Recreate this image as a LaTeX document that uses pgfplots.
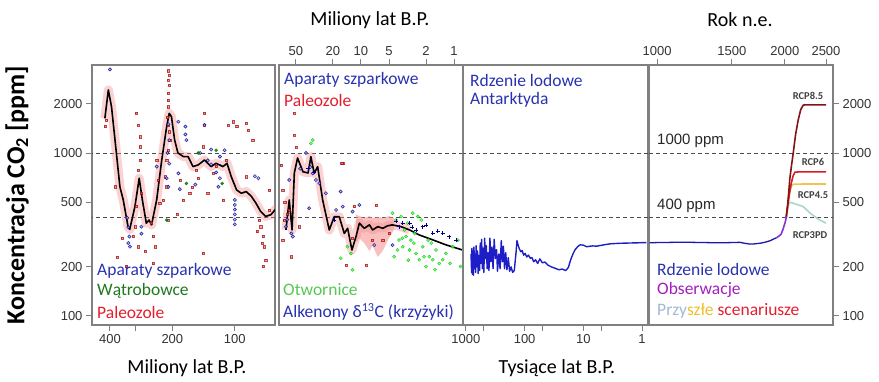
\documentclass[border=0pt]{standalone}
\usepackage{fontspec}
\setmainfont{Carlito}
\newfontfamily\arialfont{Liberation Sans}
\usepackage{pgfplots}
\pgfplotsset{compat=1.18}
\definecolor{txtblue}{RGB}{40,50,175}
\definecolor{txtred}{RGB}{228,30,45}
\definecolor{txtgreen}{RGB}{30,120,30}
\definecolor{txtlgreen}{RGB}{85,200,80}
\definecolor{txtpurple}{RGB}{165,30,190}
\definecolor{framegray}{RGB}{128,128,128}
\definecolor{lineblue}{RGB}{30,30,200}
\definecolor{obspurple}{RGB}{130,50,220}
\definecolor{rcpeight}{RGB}{130,20,25}
\definecolor{rcpsix}{RGB}{210,30,30}
\definecolor{rcpfour}{RGB}{240,195,80}
\definecolor{rcpthree}{RGB}{170,212,208}
\definecolor{bandpink}{RGB}{245,140,140}
\definecolor{futblue}{RGB}{160,185,215}
\definecolor{futyellow}{RGB}{240,190,40}
\pgfplotsset{
 co2panel/.style={
  scale only axis, height=260pt,
  anchor=south west,
  axis line style={framegray, line width=1.6pt},
  tick style={framegray, line width=0.9pt},
  major tick length=6pt, tick align=outside,
  tick label style={font=\arialfont\fontsize{13}{13}\selectfont, text=black!80},
 },
 co2ref/.style={black!70, line width=0.8pt, dash pattern=on 4pt off 3pt},
 co2redx/.style={only marks, mark=square*, mark size=1.1pt, draw=red!60!black, fill=red!55, opacity=0.7, line width=0.4pt},
 co2bluec/.style={only marks, mark=*, mark size=1.6pt, draw=blue!55!black, fill=blue!30, opacity=0.8, line width=0.6pt},
 co2greenc/.style={only marks, mark=*, mark size=1.5pt, draw=green!45!black, fill=green!50!black, opacity=0.85},
 co2lgreen/.style={only marks, mark=*, mark size=1.6pt, draw=green!75!black, fill=green!65, opacity=0.8},
 co2band/.style={bandpink, line width=9pt, opacity=0.4, line join=round},
}
\begin{document}
\begin{tikzpicture}
\useasboundingbox (0,0) rectangle (879pt,381pt);

% ---------------- Panel 1 ----------------
\begin{axis}[co2panel, at={(92pt,56pt)}, width=183pt,
  ymode=log, ymin=88, ymax=3467,
  xmode=log, x dir=reverse, xmin=64, xmax=488,
  xminorticks=false, yminorticks=false,
  xtick={400,300,200,100}, xticklabels={400,,200,100}, xtick pos=left,
  ytick={100,200,500,1000,2000}, yticklabels={100,200,500,1000,2000}, ytick pos=left]
\addplot[co2ref] coordinates {(64,1000) (488,1000)};
\addplot[co2ref] coordinates {(64,400) (488,400)};
\addplot[co2band] coordinates {(423,1630)(407,2436)(393,1923)(378,1202)(358,621)(345,515)(327,353)(321,340)(303,469)(289,700)(279,515)(267,371)(259,388)(252,362)(238,515)(225,906)(213,1452)(207,1750)(202,1670)(195,1202)(188,1000)(177,950)(168,950)(159,825)(150,845)(140,906)(130,825)(123,865)(114,825)(109,865)(104,716)(98,593)(93,566)(88,580)(83,540)(79,491)(75,437)(71,408)(67,418)(63,458)};
\addplot[co2redx] coordinates {(423,1452)(415,1592)(378,621)(333,201)(298,1750)(292,1486)(287,1260)(287,1094)(287,906)(292,787)(282,566)(298,469)(303,353)(309,307)(292,266)(252,371)(247,307)(243,266)(247,210)(213,621)(217,716)(221,515)(209,388)(213,906)(209,1486)(209,2805)(209,2323)(209,1923)(206,1202)(209,1043)(209,3200)(207,2600)(211,1650)(208,3000)(210,2100)(208,1350)(184,683)(177,515)(165,566)(153,787)(140,1750)(140,1486)(142,1094)(142,242)(135,566)(123,825)(114,515)(110,906)(108,1486)(102,1556)(98,1452)(88,1520)(86,1384)(82,1202)(88,716)(76,388)(75,353)(73,307)(72,266)(71,220)(73,201)(68,447)(68,593)(238,906)(234,683)(230,491)(127,750)(150,700)(160,620)(190,420)(270,250)(350,300)(370,230)(78,330)(74,280)};
\addplot[co2bluec] coordinates {(400,3258)(330,400)(326,350)(322,307)(326,280)(320,266)(282,353)(282,320)(238,825)(209,1500)(207,1200)(211,1000)(207,860)(213,700)(209,620)(187,1556)(173,1452)(173,1300)(171,1200)(187,750)(184,600)(140,1486)(147,1000)(135,900)(130,850)(123,760)(118,950)(118,700)(120,620)(100,515)(100,480)(100,450)(100,420)(100,390)(100,365)(80,720)(77,700)(112,1040)(130,1050)(155,640)};
\addplot[co2greenc] coordinates {(171,650)(115,650)(213,388)(150,1000)(123,1040)};
\addplot[black, line width=1.6pt, line join=round] coordinates {(423,1630)(407,2436)(393,1923)(378,1202)(358,621)(345,515)(327,353)(321,340)(303,469)(289,700)(279,515)(267,371)(259,388)(252,362)(238,515)(225,906)(213,1452)(207,1750)(202,1670)(195,1202)(188,1000)(177,950)(168,950)(159,825)(150,845)(140,906)(130,825)(123,865)(114,825)(109,865)(104,716)(98,593)(93,566)(88,580)(83,540)(79,491)(75,437)(71,408)(67,418)(63,458)};
\end{axis}

% ---------------- Panel 2 ----------------
\begin{axis}[co2panel, at={(279pt,56pt)}, width=184pt,
  ymode=log, ymin=88, ymax=3467, ytick=\empty,
  xmode=log, x dir=reverse, xmin=0.8, xmax=76,
  xminorticks=false, yminorticks=false,
  xtick={50,20,10,5,2,1}, xticklabels={50,20,10,5,2,1},
  xtick pos=right, xticklabel pos=right]
\addplot[co2ref] coordinates {(0.8,1000) (76,1000)};
\addplot[co2ref] coordinates {(0.8,400) (76,400)};
\addplot[fill=bandpink, draw=none, opacity=0.55] coordinates {(11.3,420)(10.4,410)(9.2,400)(8.1,410)(7.5,400)(6.6,405)(5.8,400)(5.0,410)(4.4,400)(4.4,340)(5.0,300)(5.85,250)(6.6,230)(7.5,270)(8.1,250)(9.2,280)(10.4,300)(11.3,280)} -- cycle;
\addplot[co2band] coordinates {(64,337)(59,515)(55,337)(52,754)(48,931)(42,767)(37,754)(34.5,949)(31.8,750)(29.2,824)(25.8,515)(21.9,337)(19.4,406)(17.1,406)(15.1,321)(13.9,345)(12.5,254)(11.3,307)(10.4,371)(9.2,345)(8.1,362)(7.5,337)(6.6,353)(5.8,345)(5.2,357)(4.6,362)(3.7,353)(3.0,337)};
\addplot[co2redx] coordinates {(72,845)(69.5,593)(67,388)(59,447)(56,231)(50,1090)(15.7,865)(14.5,205)(8.8,205)(6.9,480)(11.8,469)(12.3,300)(7.5,292)(5.85,292)(5.0,321)(46,353)(69.5,292)(52.5,1758)(52.5,1289)(16.1,868)(66,500)(62,420)};
\addplot[co2lgreen] coordinates {(34.5,1146)(33,1202)(14,266)(12.8,242)(16.5,226)(12.3,192)(4.57,427)(4.2,388)(3.9,292)(3.56,266)(3.28,307)(3.0,254)(2.78,427)(2.56,242)(2.36,221)(2.17,266)(2.0,201)(1.84,231)(1.69,221)(1.56,254)(1.44,210)(1.32,221)(1.22,242)(1.03,266)(0.91,292)(0.85,201)(3.4,337)(2.9,292)(3.15,371)(3.7,407)(2.45,407)(2.65,321)(2.25,388)(4.05,254)(4.4,231)(2.1,231)(1.6,192)(1.9,292)(3.6,300)(2.7,280)(1.75,280)(1.1,210)(3.1,220)};
\addplot[co2bluec] coordinates {(59,683)(56,321)(64,353)(54,307)(36,458)(39,1000)(33,750)(30.5,683)(18.5,447)(16.5,580)(15.7,469)(12.3,437)(10.4,480)(7.2,272)(4.57,272)(28,652)(23.8,566)(62,390)(45,800)(35,820)};
\addplot[only marks, mark=+, mark size=2pt, blue!50!black, line width=0.8pt] coordinates {(3.9,353)(3.56,371)(3.0,371)(2.56,337)(2.17,353)(2.0,362)(1.69,321)(1.32,321)(1.12,307)(0.95,292)(19.4,388)(4.2,380)(2.8,350)(1.5,330)(37,800)(32,760)};
\addplot[black, line width=1.6pt, line join=round] coordinates {(64,337)(59,515)(55,337)(52,754)(48,931)(42,767)(37,754)(34.5,949)(31.8,750)(29.2,824)(25.8,515)(21.9,337)(19.4,406)(17.1,406)(15.1,321)(13.9,345)(12.5,254)(11.3,307)(10.4,371)(9.2,345)(8.1,362)(7.5,337)(6.6,353)(5.8,345)(5.2,357)(4.6,362)(3.7,353)(3.0,337)(2.36,314)(1.69,293)(1.22,273)(0.81,254)};
\end{axis}

% ---------------- Panel 3 ----------------
\begin{axis}[co2panel, at={(463pt,56pt)}, width=185pt,
  ymode=log, ymin=88, ymax=3467, ytick=\empty,
  xmode=log, x dir=reverse, xmin=0.79, xmax=1122,
  xminorticks=false, yminorticks=false,
  xtick={1000,500,100,50,10,5,1}, xticklabels={1000,,100,,10,,1}, xtick pos=left]
\addplot[co2ref] coordinates {(0.79,1000) (1122,1000)};
\addplot[co2ref] coordinates {(0.79,400) (1122,400)};
\addplot[lineblue, line width=1.4pt, line join=round] coordinates {(820,240)(800,185)(790,260)(775,180)(760,250)(745,178)(730,265)(715,195)(700,240)(685,185)(670,270)(650,200)(635,250)(620,182)(600,235)(585,190)(570,280)(555,210)(540,295)(525,195)(510,260)(495,185)(480,300)(465,225)(450,270)(435,195)(420,245)(405,190)(390,300)(375,215)(360,265)(345,195)(330,295)(315,225)(300,255)(290,188)(275,240)(262,195)(250,290)(240,215)(230,268)(220,195)(210,245)(200,192)(190,228)(180,188)(170,200)(160,185)(150,190)(140,245)(135,290)(130,275)(123,258)(116,248)(110,252)(104,236)(98,242)(92,230)(86,236)(80,226)(75,228)(70,215)(65,221)(60,210)(55,224)(50,212)(45,214)(40,205)(35,200)(30,196)(26,192)(23,194)(20,190)(18,198)(16.5,220)(15,240)(13.9,254)(12.5,266)(11.4,273)(10,272)(8.8,266)(7,269)(5.9,268)(4.5,273)(3.5,277)(2.5,279)(1.8,280)(1.2,281)(0.84,282)};
\end{axis}

% ---------------- Panel 4 ----------------
\begin{axis}[co2panel, at={(649pt,56pt)}, width=184pt,
  ymode=log, ymin=88, ymax=3467,
  xmode=log, xmin=957, xmax=2597,
  xminorticks=false, yminorticks=false,
  xtick={1000,1500,2000,2500}, xticklabels={1000,1500,2000,2500},
  xtick pos=right, xticklabel pos=right,
  ytick={100,200,500,1000,2000}, yticklabels={100,200,500,1000,2000},
  ytick pos=right, yticklabel pos=right]
\addplot[co2ref] coordinates {(957,1000) (2597,1000)};
\addplot[co2ref] coordinates {(957,400) (2597,400)};
\addplot[lineblue!85!black, line width=1.3pt] coordinates {(960,281)(1000,282)(1100,283)(1200,283)(1300,282)(1400,281)(1500,282)(1567,283)(1610,279)(1655,276)(1700,277)(1760,280)(1811,285)(1850,290)(1879,296)(1912,302)};
\addplot[rcpthree, line width=1.6pt] coordinates {(2015,405)(2030,450)(2045,490)(2060,498)(2100,490)(2150,480)(2208,469)(2300,425)(2400,392)(2500,371)};
\addplot[rcpfour, line width=1.6pt] coordinates {(2015,405)(2030,460)(2045,540)(2060,600)(2080,635)(2100,643)(2200,645)(2500,645)};
\addplot[rcpsix, line width=1.6pt] coordinates {(2015,405)(2030,470)(2050,560)(2070,650)(2090,720)(2112,762)(2150,765)(2500,765)};
\addplot[rcpeight, line width=1.6pt] coordinates {(2015,405)(2030,480)(2043,580)(2055,700)(2075,850)(2093,1000)(2120,1300)(2150,1594)(2180,1850)(2210,1968)(2240,1975)(2500,1975)};
\addplot[obspurple, line width=1.6pt] coordinates {(1912,302)(1940,310)(1960,318)(1980,340)(2000,370)(2010,390)(2018,410)};
\end{axis}

% ---------------- Texts ----------------
\node[rotate=90, font=\bfseries\fontsize{26}{26}\selectfont] at (17pt,186pt) {Koncentracja CO\textsubscript{2} [ppm]};
\node[font=\fontsize{20}{20}\selectfont] at (187pt,13pt) {Miliony lat B.P.};
\node[font=\fontsize{20}{20}\selectfont] at (557pt,13pt) {Tysiące lat B.P.};
\node[font=\fontsize{20}{20}\selectfont] at (370pt,361pt) {Miliony lat B.P.};
\node[font=\fontsize{20}{20}\selectfont] at (740pt,361pt) {Rok n.e.};

\begin{scope}[every node/.style={anchor=west, font=\fontsize{17.5}{20}\selectfont, inner sep=0pt}]
\node[text=txtblue] at (97pt,110pt) {Aparaty szparkowe};
\node[text=txtgreen] at (97pt,90pt) {Wątrobowce};
\node[text=txtred] at (97pt,69pt) {Paleozole};
\node[text=txtblue] at (284pt,301pt) {Aparaty szparkowe};
\node[text=txtred] at (284pt,281pt) {Paleozole};
\node[text=txtlgreen] at (283pt,91pt) {Otwornice};
\node[text=txtblue] at (283pt,69pt) {Alkenony δ\textsuperscript{13}C (krzyżyki)};
\node[text=txtblue] at (470pt,301pt) {Rdzenie lodowe};
\node[text=txtblue] at (470pt,281pt) {Antarktyda};
\node[text=txtblue] at (657pt,112pt) {Rdzenie lodowe};
\node[text=txtpurple] at (657pt,91pt) {Obserwacje};
\node at (657pt,70pt) {\textcolor{futblue}{Przy}\textcolor{futyellow}{szłe} \textcolor{txtred}{scenariusze}};
\end{scope}

\begin{scope}[every node/.style={anchor=west, font=\arialfont\fontsize{15}{15}\selectfont, inner sep=0pt, text=black!85}]
\node at (657pt,240pt) {1000 ppm};
\node at (657pt,175pt) {400 ppm};
\end{scope}

\begin{scope}[every node/.style={font=\bfseries\fontsize{10.5}{10.5}\selectfont, inner sep=0pt, text=black!75}]
\node at (808pt,285pt) {RCP8.5};
\node at (813pt,219pt) {RCP6};
\node at (813pt,186pt) {RCP4.5};
\node at (810pt,146pt) {RCP3PD};
\end{scope}
\end{tikzpicture}
\end{document}
